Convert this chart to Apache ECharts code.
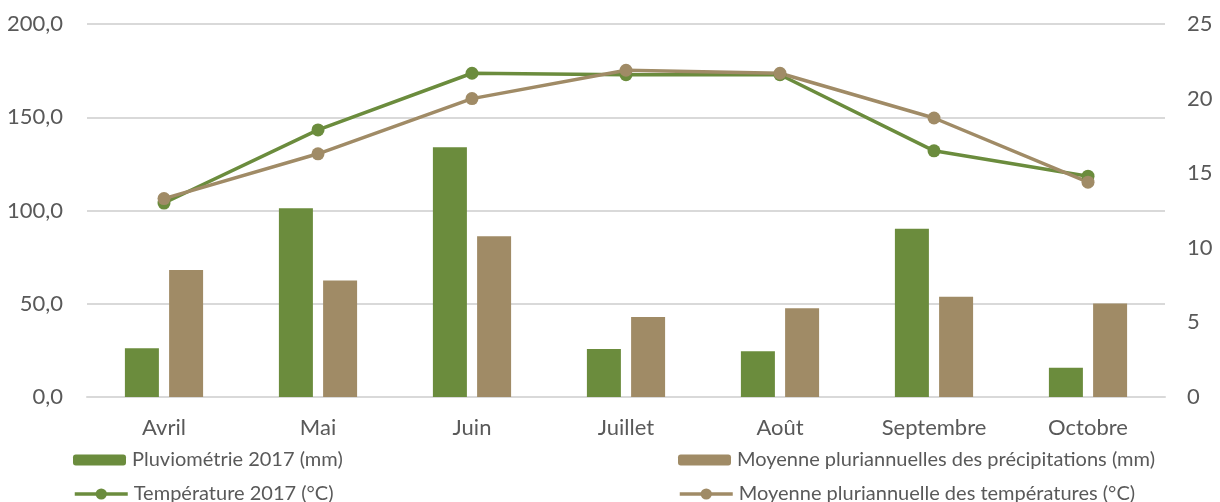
<!DOCTYPE html>
<html>
<head>
<meta charset="utf-8">
<script src="https://cdn.jsdelivr.net/npm/echarts@6/dist/echarts.min.js"></script>
<style>
  html, body { margin: 0; padding: 0; background: #fff; }
  #main { width: 1220px; height: 502px; }
</style>
</head>
<body>
<div id="main"></div>
<script>
// donnees
var mois = ['Avril', 'Mai', 'Juin', 'Juillet', 'Août', 'Septembre', 'Octobre'];
var pluvio2017 = [26.1, 101.2, 133.9, 25.7, 24.5, 90.2, 15.7];
var pluvioMoy = [68.1, 62.4, 86.2, 42.9, 47.6, 53.8, 50.2];
var temp2017 = [13.0, 17.9, 21.7, 21.6, 21.6, 16.5, 14.8];
var tempMoy = [13.3, 16.3, 20.0, 21.9, 21.7, 18.7, 14.4];

var vert = '#6B8C3D';
var brun = '#A08B66';
var texte = '#595959';
var police = 'Lato';

// une legende par entree, placee comme dans l'original
function legende(nom, x, y, h) {
    return {
        left: x,
        top: y,
        padding: 0,
        itemWidth: 53,
        itemHeight: h,
        itemGap: 5,
        lineStyle: { width: 3.5 },
        textStyle: { fontFamily: police, fontSize: 20, color: texte, padding: [0, 0, 0, 1] },
        data: [nom]
    };
}

var myChart = echarts.init(document.getElementById('main'));

myChart.setOption({
    animation: false,
    textStyle: { fontFamily: police, color: texte },
    grid: { left: 87, right: 55, top: 24, bottom: 105 },
    legend: [
        legende('Pluviométrie 2017 (mm)', 73, 450, 11),
        legende('Température 2017 (°C)', 73, 484, 14),
        legende('Moyenne pluriannuelles des précipitations (mm)', 678, 450, 11),
        legende('Moyenne pluriannuelle des températures (°C)', 678, 484, 14)
    ],
    xAxis: {
        type: 'category',
        data: mois,
        axisTick: { show: false },
        axisLine: { lineStyle: { color: '#D9D9D9', width: 2 } },
        axisLabel: { fontFamily: police, fontSize: 22, color: texte, margin: 20 }
    },
    yAxis: [{
        type: 'value',
        min: 0,
        max: 200,
        interval: 50,
        axisLine: { show: false },
        axisTick: { show: false },
        splitLine: { lineStyle: { color: '#D9D9D9', width: 2 } },
        axisLabel: {
            fontFamily: police, fontSize: 22, color: texte, margin: 24,
            formatter: function (v) { return v.toFixed(1).replace('.', ','); }
        }
    }, {
        type: 'value',
        min: 0,
        max: 25,
        interval: 5,
        axisLine: { show: false },
        axisTick: { show: false },
        splitLine: { show: false },
        axisLabel: { fontFamily: police, fontSize: 22, color: texte, margin: 22 }
    }],
    series: [{
        name: 'Pluviométrie 2017 (mm)',
        type: 'bar',
        data: pluvio2017,
        barWidth: 34,
        barGap: '30%',
        itemStyle: { color: vert }
    }, {
        name: 'Moyenne pluriannuelles des précipitations (mm)',
        type: 'bar',
        data: pluvioMoy,
        barWidth: 34,
        itemStyle: { color: brun }
    }, {
        name: 'Température 2017 (°C)',
        type: 'line',
        yAxisIndex: 1,
        data: temp2017,
        symbol: 'circle',
        symbolSize: 13,
        lineStyle: { color: vert, width: 3.5 },
        itemStyle: { color: vert }
    }, {
        name: 'Moyenne pluriannuelle des températures (°C)',
        type: 'line',
        yAxisIndex: 1,
        data: tempMoy,
        symbol: 'circle',
        symbolSize: 13,
        lineStyle: { color: brun, width: 3.5 },
        itemStyle: { color: brun }
    }]
});
</script>
</body>
</html>
